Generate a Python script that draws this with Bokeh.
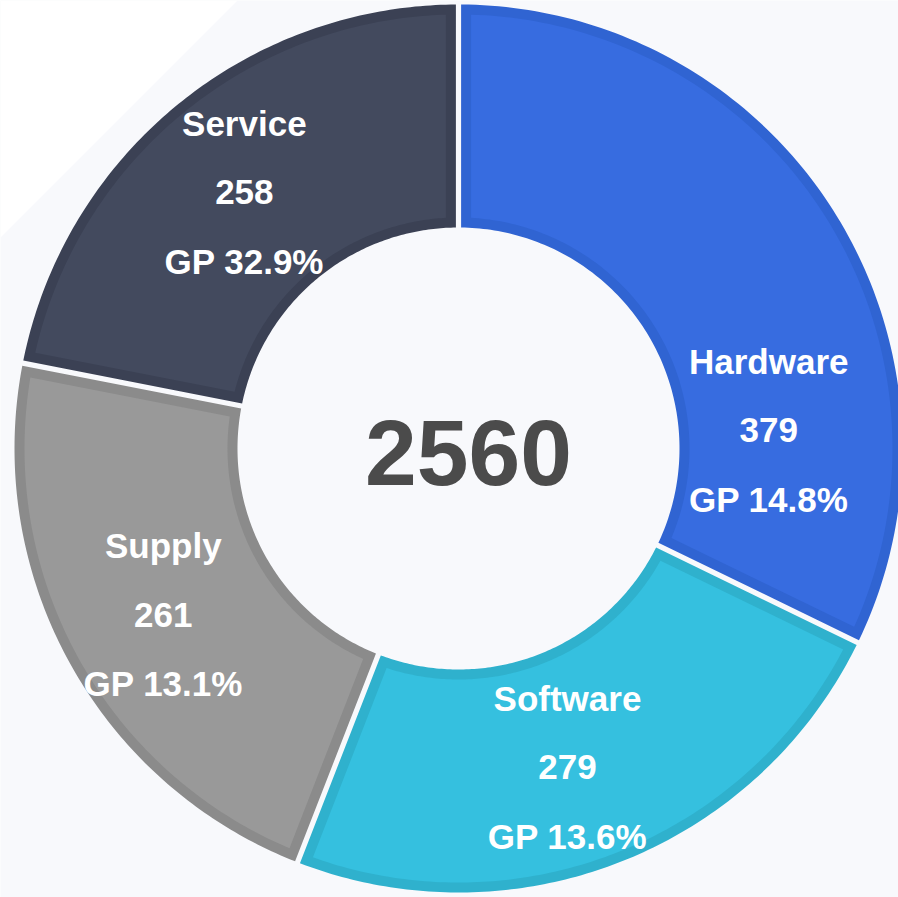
import numpy as np
from bokeh.plotting import figure
from bokeh.models import ColumnDataSource, Range1d
from bokeh.core.properties import value
from bokeh.embed import file_html
from bokeh.resources import INLINE

# ---------------- data ----------------
categories = ["Hardware", "Software", "Supply", "Service"]
amounts = [379, 279, 261, 258]
gp_pct = [14.8, 13.6, 13.1, 32.9]
center_total = 2560

# ---------------- style / layout ----------------
fill_colors = ["#376ce0", "#35c0df", "#999999", "#434a5e"]
edge_colors = ["#3064d2", "#2fb1cd", "#8b8b8b", "#3b4154"]
BG = "#f8f9fc"
W, H = 898, 897
CX, CY = 458, 448  # donut centre in pixels from top-left
R_OUT, R_IN = 444, 221
EDGE = 10          # darker band width (px)
GAP = 2.6          # half of the white gap between slices (px)
LABEL_R = 337
# (angle deg, radius) for labels placed off their mid-angle
LABEL_OVERRIDE = {"Hardware": (4.1, 311), "Software": (-70.9, 333)}
LINE_STEP = 69
FONT = "Liberation Sans"

p = figure(width=W, height=H, output_backend="svg", toolbar_location=None,
           x_range=Range1d(-CX, W - CX), y_range=Range1d(CY - H, CY),
           min_border=0, background_fill_color=BG, border_fill_color=BG,
           outline_line_color=None)
p.axis.visible = False
p.grid.visible = False

# decorative lighter corner
p.patch([-CX, 237 - CX, -CX], [CY, CY, CY - 237], fill_color="#ffffff", line_color=None)

vals = np.array(amounts, dtype=float)
frac = vals / vals.sum()
cum = np.concatenate([[0], np.cumsum(frac)])
start_ang = np.deg2rad(90 - cum[:-1] * 360)   # larger angle
end_ang = np.deg2rad(90 - cum[1:] * 360)      # smaller angle


def sector(t1, t2, r_in, r_out, d, n=120):
    """annular sector from t1 (smaller) to t2 (larger) with straight edges offset by d px."""
    do = np.arcsin(d / r_out)
    di = np.arcsin(d / r_in)
    ao = np.linspace(t1 + do, t2 - do, n)
    ai = np.linspace(t2 - di, t1 + di, n)
    xs = np.concatenate([r_out * np.cos(ao), r_in * np.cos(ai)])
    ys = np.concatenate([r_out * np.sin(ao), r_in * np.sin(ai)])
    return list(xs), list(ys)


bx, by, ix, iy = [], [], [], []
for s, e in zip(start_ang, end_ang):
    x, y = sector(e, s, R_IN, R_OUT, GAP)
    bx.append(x); by.append(y)
    x, y = sector(e, s, R_IN + EDGE, R_OUT - EDGE, GAP + EDGE)
    ix.append(x); iy.append(y)

p.patches(bx, by, fill_color=edge_colors, line_color=None)
p.patches(ix, iy, fill_color=fill_colors, line_color=None)

# labels
lx, ly = [], []
for i, c in enumerate(categories):
    if c in LABEL_OVERRIDE:
        a, r = LABEL_OVERRIDE[c]
        a = np.deg2rad(a)
    else:
        a, r = (start_ang[i] + end_ang[i]) / 2, LABEL_R
    lx.append(r * np.cos(a)); ly.append(r * np.sin(a))

lines = [categories, [str(v) for v in amounts], ["GP {:.1f}%".format(g) for g in gp_pct]]
for k, txt in enumerate(lines):
    src = ColumnDataSource(dict(x=lx, y=ly, t=txt))
    p.text("x", "y", text="t", source=src, text_align="center", text_baseline="middle",
           text_color="#ffffff", text_font=value(FONT), text_font_style="bold",
           text_font_size="35px", y_offset=(k - 1) * LINE_STEP + 4)

p.text([0], [0], text=[str(center_total)], text_align="center", text_baseline="middle",
       text_color="#4b4b4b", text_font=value(FONT), text_font_style="bold",
       text_font_size="93px", x_offset=10, y_offset=4)

open("out.html", "w").write(file_html(p, INLINE))
